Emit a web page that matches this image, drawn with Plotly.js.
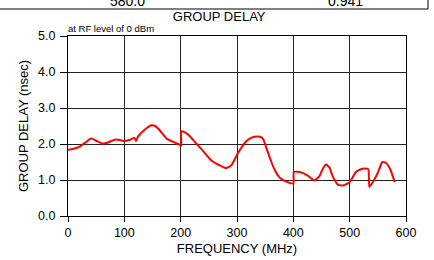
<!DOCTYPE html>
<html>
<head>
<meta charset="utf-8">
<script src="https://cdn.plot.ly/plotly-3.0.1.min.js"></script>
<style>html,body{margin:0;padding:0;background:#fff;}#chart{width:434px;height:260px;}</style>
</head>
<body>
<div id="chart"></div>
<script>
// Frequency (MHz)
const freq = [0, 10, 20, 30, 41, 50, 62, 72, 83, 92, 100, 110, 118, 121, 124, 135, 148, 155, 160, 168, 175, 188, 198, 201, 201, 207, 218, 228, 240, 254, 269, 281, 290, 301, 316, 325, 334, 341, 346, 353, 361, 368, 375, 383, 390, 400, 401, 411, 425, 437, 446, 452, 458, 464, 470, 479, 488, 500, 511, 520, 526, 533, 535, 541, 550, 558, 564, 572, 580];
// Group delay (nsec)
const delay = [1.84, 1.87, 1.92, 2.03, 2.15, 2.09, 2.01, 2.05, 2.12, 2.11, 2.08, 2.12, 2.17, 2.08, 2.2, 2.38, 2.52, 2.5, 2.43, 2.28, 2.15, 2.05, 1.98, 1.95, 2.35, 2.33, 2.19, 2.01, 1.8, 1.55, 1.41, 1.33, 1.41, 1.73, 2.07, 2.17, 2.21, 2.2, 2.15, 1.85, 1.5, 1.25, 1.08, 0.99, 0.94, 0.9, 1.22, 1.22, 1.13, 0.99, 1.1, 1.3, 1.43, 1.35, 1.1, 0.87, 0.85, 0.94, 1.22, 1.3, 1.32, 1.30, 0.81, 0.94, 1.2, 1.5, 1.48, 1.3, 0.94];
const xTicks = [0, 100, 200, 300, 400, 500, 600];
const yTicks = [0, 1, 2, 3, 4, 5];
const tableRow = ["580.0", "0.941"];

const font = "Liberation Sans, Arial, sans-serif";
const trace = {
  x: freq, y: delay, type: "scatter", mode: "lines",
  line: {color: "#ff0000", width: 2, shape: "spline", smoothing: 0.5}, hoverinfo: "skip"
};
const axisCommon = {
  showgrid: true, gridcolor: "#222", gridwidth: 1,
  showline: true, linecolor: "#000", linewidth: 1, mirror: true,
  ticks: "outside", ticklen: 6, tickcolor: "#000",
  zeroline: false, tickfont: {family: font, size: 12.5, color: "#000"}
};
const layout = {
  width: 434, height: 260,
  margin: {l: 68, r: 28, t: 36, b: 44, pad: 0},
  paper_bgcolor: "#fff", plot_bgcolor: "#fff",
  showlegend: false,
  title: {text: "GROUP DELAY", font: {family: font, size: 13, color: "#000"},
          xref: "container", x: 0.505, yref: "container", y: 1 - 16/260, yanchor: "middle", xanchor: "center"},
  xaxis: Object.assign({}, axisCommon, {
    range: [0, 600], tickvals: xTicks, ticktext: xTicks.map(String), ticklen: 5,
    title: {text: "FREQUENCY (MHz)", font: {family: font, size: 13, color: "#000"}, standoff: 4}
  }),
  yaxis: Object.assign({}, axisCommon, {
    range: [0, 5], tickvals: yTicks, ticktext: yTicks.map(v => v.toFixed(1)), ticklen: 7,
    ticklabelstandoff: 2,
    title: {text: "GROUP DELAY (nsec)", font: {family: font, size: 13, color: "#000"}, standoff: 6}
  }),
  annotations: [
    {text: "at RF level of 0 dBm", xref: "paper", yref: "paper", x: -0.005, y: 1.0, xanchor: "left", yanchor: "bottom",
     showarrow: false, font: {family: font, size: 9.5, color: "#000"}},
    {text: tableRow[0], xref: "paper", yref: "paper", x: (127-68)/338, y: (216-0.5)/180, xanchor: "center", yanchor: "middle",
     showarrow: false, font: {family: font, size: 14, color: "#000"}},
    {text: tableRow[1], xref: "paper", yref: "paper", x: (345-68)/338, y: (216-0.5)/180, xanchor: "center", yanchor: "middle",
     showarrow: false, font: {family: font, size: 14, color: "#000"}}
  ],
  shapes: [
    {type: "line", xref: "paper", yref: "paper", x0: -68/338, x1: (428-68)/338, y0: (216-9)/180, y1: (216-9)/180,
     line: {color: "#000", width: 1}},
    {type: "line", xref: "paper", yref: "paper", x0: (428-68)/338, x1: (428-68)/338, y0: (216-9)/180, y1: (216+10)/180,
     line: {color: "#000", width: 1}}
  ]
};
Plotly.newPlot("chart", [trace], layout, {staticPlot: true, displayModeBar: false});
</script>
</body>
</html>
